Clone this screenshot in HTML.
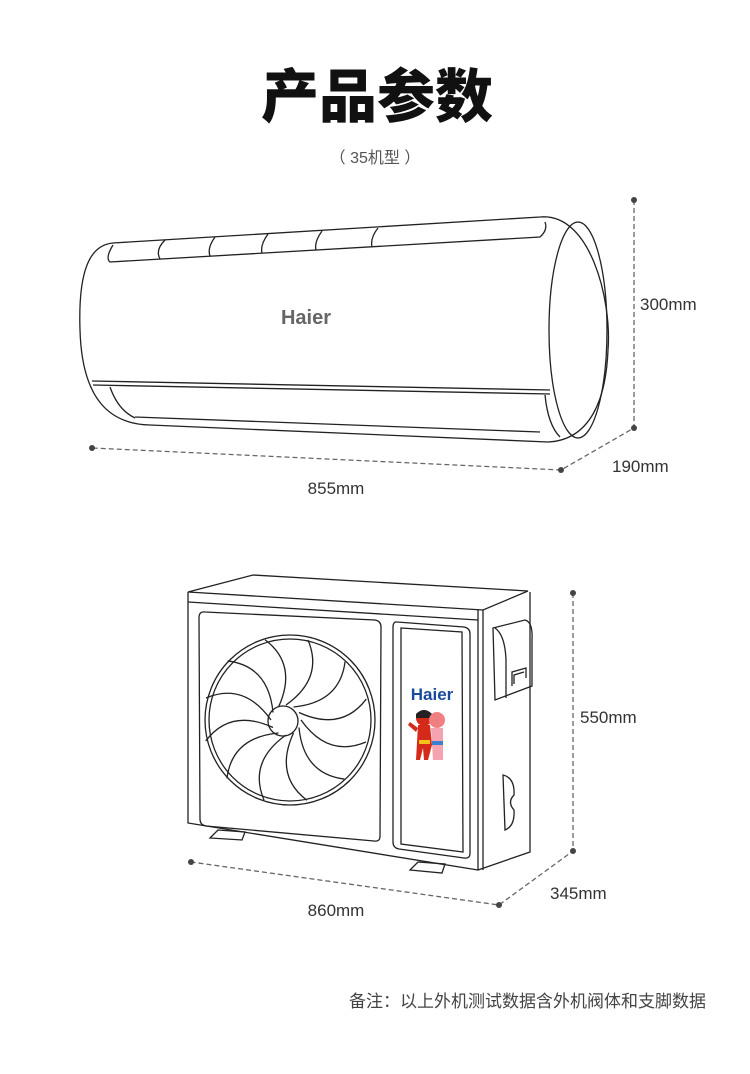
<!DOCTYPE html>
<html><head><meta charset="utf-8"><style>
html,body{margin:0;padding:0;background:#fff;}
body{width:750px;height:1074px;overflow:hidden;position:relative;font-family:"Liberation Sans","Noto Sans CJK SC",sans-serif;}
</style></head><body>
<svg width="750" height="1074" viewBox="0 0 750 1074" xmlns="http://www.w3.org/2000/svg" style="position:absolute;left:0;top:0">
<text x="377" y="117" text-anchor="middle" font-family="Noto Sans CJK SC, sans-serif" font-weight="900" font-size="58" fill="#111">产品参数</text>
<text x="375" y="163" text-anchor="middle" font-family="Liberation Sans, Noto Sans CJK SC, sans-serif" font-size="16" fill="#555">（ 35机型 ）</text>

<!-- indoor unit -->
<g fill="none" stroke="#222" stroke-width="1.3">
<path d="M113,243 L540,217 M540,217 C590,212 612,300 608,350 C606,400 590,440 548,442 L150,425 C110,424 82,400 80,330 C78,270 90,245 113,243 Z"/>
<path d="M113,245 Q105,258 110,262 L540,237 Q548,230 545,222"/>
<path d="M165,240 Q155,250 160,259 M215,237 Q207,248 210,256 M268,234 Q260,245 262,253 M322,231 Q314,242 316,250 M378,228 Q370,238 372,247"/>
<ellipse cx="578" cy="330" rx="29" ry="108"/>
<path d="M92,381 L550,390 M93,385 L550,394"/>
<path d="M110,387 Q118,410 135,418 M545,395 Q548,425 560,437"/>
<path d="M135,417 L540,432"/>
</g>
<text x="306" y="324" text-anchor="middle" font-weight="bold" font-size="20" fill="#666">Haier</text>
<g stroke="#666" stroke-width="1.3" stroke-dasharray="5,3" fill="none">
<path d="M634,200 L634,428 L561,470 L92,448"/>
</g>
<g fill="#444"><circle cx="634" cy="200" r="3"/><circle cx="634" cy="428" r="3"/><circle cx="561" cy="470" r="3"/><circle cx="92" cy="448" r="3"/></g>
<text x="640" y="310" font-size="17" fill="#333">300mm</text>
<text x="612" y="472" font-size="17" fill="#333">190mm</text>
<text x="336" y="494" text-anchor="middle" font-size="17" fill="#333">855mm</text>

<!-- outdoor unit -->
<g fill="none" stroke="#222" stroke-width="1.3">
<path d="M188,592 L253,575 L528,591 L483,610 Z"/>
<path d="M188,592 L188,823 L478,870 L478,610"/>
<path d="M188,602 L478,620"/>
<path d="M483,610 L483,870 M478,870 L530,852 L530,592"/>
<path d="M205,612 L375,620 Q381,621 381,627 L380,836 Q380,842 374,841 L206,826 Q200,825 200,819 L199,618 Q199,611 205,612 Z"/>
<path d="M397,622 L464,627 Q470,628 470,634 L470,853 Q470,859 464,858 L399,849 Q393,848 393,842 L393,628 Q393,621 397,622 Z"/>
<path d="M401,628 L462,632 L463,852 L401,844 Z"/>
<circle cx="290" cy="720" r="85"/>
<circle cx="290" cy="720" r="81"/>
<circle cx="283" cy="721" r="15"/>
<g transform="translate(286,720)">
<path d="M0,-15 Q38,-42 22,-80" transform="rotate(0)"/>
<path d="M0,-15 Q38,-42 22,-80" transform="rotate(30)"/>
<path d="M0,-15 Q38,-42 22,-80" transform="rotate(60)"/>
<path d="M0,-15 Q38,-42 22,-80" transform="rotate(90)"/>
<path d="M0,-15 Q38,-42 22,-80" transform="rotate(120)"/>
<path d="M0,-15 Q38,-42 22,-80" transform="rotate(150)"/>
<path d="M0,-15 Q38,-42 22,-80" transform="rotate(180)"/>
<path d="M0,-15 Q38,-42 22,-80" transform="rotate(210)"/>
<path d="M0,-15 Q38,-42 22,-80" transform="rotate(240)"/>
<path d="M0,-15 Q38,-42 22,-80" transform="rotate(270)"/>
<path d="M0,-15 Q38,-42 22,-80" transform="rotate(300)"/>
<path d="M0,-15 Q38,-42 22,-80" transform="rotate(330)"/>
</g>
<path d="M493,628 L525,620 Q533,622 532,640 L532,686 L495,700 Z"/>
<path d="M495,628 Q505,635 506,660 L506,698"/>
<path d="M512,686 L512,672 L526,668 L526,678 M514,684 L514,675 L524,672"/>
<path d="M503,775 Q515,778 514,795 Q507,802 514,810 Q515,826 505,830 Z"/>
<path d="M210,838 L218,830 L245,832 L242,840 Z M410,870 L418,862 L445,864 L442,873 Z"/>
</g>
<text x="432" y="700" text-anchor="middle" font-weight="bold" font-size="17" fill="#1a4b9b">Haier</text>
<g>
<circle cx="424" cy="718" r="8" fill="#d42a1a"/><path d="M416,714 Q424,706 432,714 L432,718 L416,718 Z" fill="#222"/>
<path d="M418,725 L430,725 L432,745 L428,760 L424,760 L423,748 L420,760 L416,760 Z" fill="#d42a1a"/>
<path d="M410,722 L418,728 L416,732 L408,725 Z" fill="#d42a1a"/>
<rect x="419" y="740" width="11" height="4" fill="#f2c21b"/>
<circle cx="437" cy="720" r="8" fill="#f08080"/>
<path d="M431,728 L443,728 L443,760 L433,760 Z" fill="#f5a3b0"/>
<rect x="432" y="741" width="11" height="4" fill="#3a7fd0"/>
</g>
<g stroke="#666" stroke-width="1.3" stroke-dasharray="5,3" fill="none">
<path d="M573,593 L573,851 L499,905 L191,862"/>
</g>
<g fill="#444"><circle cx="573" cy="593" r="3"/><circle cx="573" cy="851" r="3"/><circle cx="499" cy="905" r="3"/><circle cx="191" cy="862" r="3"/></g>
<text x="580" y="723" font-size="17" fill="#333">550mm</text>
<text x="550" y="899" font-size="17" fill="#333">345mm</text>
<text x="336" y="916" text-anchor="middle" font-size="17" fill="#333">860mm</text>

<text x="706" y="1007" text-anchor="end" font-family="Noto Sans CJK SC, sans-serif" font-size="17" fill="#444">备注：以上外机测试数据含外机阀体和支脚数据</text>
</svg>
</body></html>
